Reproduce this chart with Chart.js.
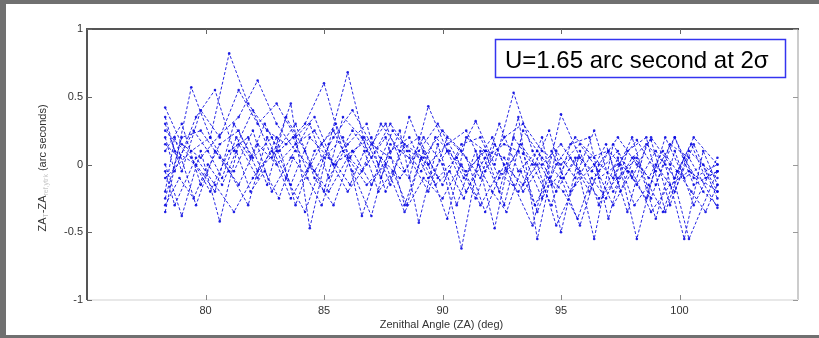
<!DOCTYPE html>
<html>
<head>
<meta charset="utf-8">
<script src="https://cdn.jsdelivr.net/npm/chart.js@4/dist/chart.umd.min.js"></script>
<style>
  html, body { margin: 0; padding: 0; background: #707070; }
  #wrap { position: absolute; left: 0; top: 0; width: 819px; height: 338px; }
</style>
</head>
<body>
<div id="wrap"><canvas id="c" width="819" height="338"></canvas></div>
<script>
// ---- data ----
const xTicks = [80, 85, 90, 95, 100];
const yTicks = [-1, -0.5, 0, 0.5, 1];

const xsA = [78.3, 79.0, 79.8, 80.6, 81.4, 82.2, 83.0, 83.8, 84.6, 85.4, 86.2, 87.0, 87.8, 88.6, 89.4, 90.2, 91.0, 91.8, 92.6, 93.4, 94.2, 95.0, 95.8, 96.6, 97.4, 98.2, 99.0, 99.8, 100.6, 101.6];
const xsB = [78.3, 79.4, 80.2, 81.0, 81.8, 82.6, 83.4, 84.2, 85.0, 85.8, 86.6, 87.4, 88.2, 89.0, 89.8, 90.6, 91.4, 92.2, 93.0, 93.8, 94.6, 95.4, 96.2, 97.0, 97.8, 98.6, 99.4, 100.2, 101.0, 101.6];
const xsC = [78.3, 78.7, 79.6, 80.4, 81.2, 82.0, 82.8, 83.6, 84.4, 85.2, 86.0, 86.8, 87.6, 88.4, 89.2, 90.0, 90.8, 91.6, 92.4, 93.2, 94.0, 94.8, 95.6, 96.4, 97.2, 98.0, 98.8, 99.6, 100.4, 101.6];
const xsD = [78.3, 78.9, 79.5, 80.1, 80.7, 81.3, 81.9, 82.5, 83.1, 83.7, 84.3, 84.9, 85.5, 86.1, 86.7, 87.3, 87.9, 88.5, 89.1, 89.7, 90.3, 90.9, 91.5, 92.1, 92.7, 93.3, 93.9, 94.5, 95.1, 95.7, 96.3, 96.9, 97.5, 98.1, 98.7, 99.3, 99.9, 100.5, 101.1, 101.6];

const run1  = [0.42, 0.15, 0.05, 0.22, 0.35, 0.62, 0.30, 0.10, -0.05, 0.20, 0.40, 0.15, 0.05, -0.10, 0.43, 0.10, -0.20, 0.05, 0.15, 0.08, -0.25, 0.37, 0.05, -0.10, 0.00, 0.18, -0.05, 0.20, -0.15, -0.05];
const run2  = [-0.35, 0.57, 0.20, 0.82, 0.45, 0.25, 0.15, 0.30, 0.60, 0.10, -0.05, 0.30, 0.10, 0.20, -0.10, 0.05, 0.32, 0.00, 0.53, 0.10, -0.15, 0.05, -0.20, 0.10, -0.05, -0.25, 0.20, -0.10, 0.00, -0.20];
const run3  = [0.20, -0.05, 0.35, 0.55, 0.10, 0.40, 0.05, 0.45, -0.47, 0.15, 0.68, 0.10, 0.30, -0.05, 0.20, 0.00, -0.62, 0.10, -0.20, 0.35, -0.55, 0.10, -0.10, 0.25, -0.20, 0.05, 0.18, -0.30, 0.10, -0.10];
const run4  = [0.00, -0.38, 0.10, -0.42, 0.15, -0.10, 0.20, -0.30, 0.10, 0.25, -0.05, -0.38, 0.15, 0.05, -0.20, 0.20, 0.05, -0.35, 0.00, -0.15, 0.20, -0.50, 0.10, -0.30, 0.05, -0.55, 0.00, -0.20, 0.15, -0.25];
const run5  = [0.25, 0.05, -0.20, 0.10, 0.20, -0.15, 0.35, 0.10, -0.20, 0.35, 0.20, -0.10, 0.25, -0.43, 0.15, -0.30, 0.10, -0.47, 0.20, 0.00, -0.30, 0.15, 0.20, -0.40, 0.10, 0.20, -0.35, 0.05, -0.20, -0.30];
const run6  = [-0.20, 0.20, -0.30, 0.10, -0.05, 0.25, -0.20, 0.05, 0.30, -0.10, 0.15, 0.30, -0.20, 0.15, 0.05, 0.25, 0.10, -0.10, 0.30, -0.05, 0.10, -0.20, 0.05, -0.55, 0.15, -0.10, 0.20, 0.00, -0.55, -0.05];
const run7  = [0.10, 0.30, -0.15, 0.15, 0.25, -0.05, 0.10, 0.30, -0.10, -0.30, 0.10, 0.20, -0.15, 0.35, 0.00, -0.40, 0.20, 0.10, -0.30, 0.25, 0.05, -0.10, -0.45, 0.00, 0.20, 0.00, -0.15, 0.20, -0.10, 0.00];
const run8  = [-0.10, 0.10, 0.20, -0.05, -0.30, 0.20, -0.10, -0.35, 0.05, 0.20, -0.38, 0.05, -0.10, 0.10, 0.30, 0.05, -0.25, 0.15, -0.15, -0.45, 0.10, -0.20, 0.05, 0.10, -0.35, 0.15, 0.00, -0.55, 0.10, -0.15];
const run9  = [0.35, 0.10, 0.00, -0.20, 0.30, 0.05, 0.20, -0.15, 0.20, 0.05, -0.20, 0.00, 0.20, -0.30, 0.10, -0.15, 0.15, 0.20, -0.10, 0.10, -0.35, 0.00, 0.20, 0.05, -0.10, 0.20, -0.25, 0.15, 0.05, -0.32];
const run10 = [-0.25, 0.20, 0.25, 0.05, -0.15, 0.15, 0.00, 0.15, 0.25, 0.00, 0.10, -0.15, 0.10, 0.20, -0.10, 0.10, -0.05, 0.10, 0.05, -0.20, 0.00, 0.15, -0.05, -0.25, -0.10, 0.05, -0.40, 0.10, -0.30, 0.05];
const run11 = [0.15, 0.05, 0.25, 0.10, -0.10, 0.20, 0.05, 0.30, 0.10, 0.20, -0.05, 0.15, 0.30, 0.05, 0.20, 0.00, 0.25, 0.10, -0.05, 0.20, 0.10, -0.10, 0.05, 0.20, -0.05, 0.15, 0.00, 0.25, -0.10, 0.05, -0.05, 0.15, -0.20, 0.05, -0.10, 0.10, -0.05, 0.15, -0.10, -0.05];
const run12 = [-0.30, -0.10, -0.25, 0.00, -0.15, 0.10, -0.20, -0.05, -0.25, 0.05, -0.10, -0.30, 0.00, -0.15, 0.10, -0.20, -0.05, -0.30, 0.05, -0.15, -0.05, -0.25, 0.00, -0.20, -0.35, -0.05, -0.30, -0.10, -0.20, -0.40, -0.10, -0.25, 0.00, -0.30, -0.15, -0.35, -0.05, -0.20, -0.35, -0.15];
const run13 = [0.30, -0.05, 0.40, 0.20, 0.55, 0.30, 0.45, 0.20, 0.35, 0.00, 0.25, 0.05, 0.30, 0.10, 0.00, 0.15, 0.25, -0.05, 0.20, 0.30, 0.10, 0.00, 0.15, -0.05, 0.10, -0.15, 0.10, -0.10, 0.20, 0.00];
const run14 = [-0.05, -0.30, 0.05, -0.15, -0.35, -0.10, 0.10, -0.25, 0.00, -0.20, 0.05, -0.15, 0.00, -0.35, -0.10, -0.25, 0.00, -0.30, -0.05, -0.20, 0.00, -0.45, -0.15, 0.00, -0.30, -0.05, -0.35, -0.15, -0.05, -0.20];

const runs = [
  [xsA, run1], [xsB, run2], [xsC, run3], [xsA, run4], [xsB, run5],
  [xsC, run6], [xsA, run7], [xsB, run8], [xsC, run9], [xsA, run10],
  [xsD, run11], [xsD, run12], [xsA, run13], [xsC, run14]
];

const noteText = 'U=1.65 arc second at 2\u03C3';
const xTitle = 'Zenithal Angle (ZA) (deg)';

// ---- chart ----
const AREA = { left: 87, top: 29, right: 798, bottom: 300 };
const BLUE = 'rgba(10,10,225,0.88)';
const FONT = '"Liberation Sans", Arial, sans-serif';

const datasets = runs.map(([xs, ys]) => ({
  data: xs.map((x, i) => ({ x: x, y: ys[i] })),
  showLine: true,
  borderColor: BLUE,
  borderWidth: 1,
  borderDash: [3, 2],
  pointRadius: 1.3,
  pointBackgroundColor: BLUE,
  pointBorderWidth: 0,
  pointHoverRadius: 1.3,
  tension: 0
}));

const decor = {
  id: 'decor',
  beforeDraw(chart) {
    const ctx = chart.ctx;
    ctx.save();
    ctx.fillStyle = '#707070';
    ctx.fillRect(0, 0, 819, 338);
    ctx.fillStyle = '#ffffff';
    ctx.fillRect(6, 4, 813, 331);
    ctx.restore();
  },
  afterDraw(chart) {
    const ctx = chart.ctx;
    const a = chart.chartArea;
    const xs = chart.scales.x, ys = chart.scales.y;
    ctx.save();
    // box
    ctx.lineWidth = 2;
    ctx.strokeStyle = '#cccccc';
    ctx.beginPath(); ctx.moveTo(a.right, a.top); ctx.lineTo(a.right, a.bottom); ctx.stroke();
    ctx.strokeStyle = '#e8e8e8';
    ctx.beginPath(); ctx.moveTo(a.left, a.bottom); ctx.lineTo(a.right, a.bottom); ctx.stroke();
    ctx.strokeStyle = '#555555';
    ctx.beginPath(); ctx.moveTo(a.left, a.bottom); ctx.lineTo(a.left, a.top); ctx.lineTo(a.right + 1, a.top); ctx.stroke();
    // ticks
    ctx.lineWidth = 1;
    xTicks.forEach(v => {
      const px = Math.round(xs.getPixelForValue(v)) + 0.5;
      ctx.strokeStyle = '#888';
      ctx.beginPath(); ctx.moveTo(px, a.bottom); ctx.lineTo(px, a.bottom - 5); ctx.stroke();
      ctx.strokeStyle = '#666';
      ctx.beginPath(); ctx.moveTo(px, a.top); ctx.lineTo(px, a.top + 5); ctx.stroke();
    });
    yTicks.forEach(v => {
      const py = Math.round(ys.getPixelForValue(v)) + 0.5;
      ctx.strokeStyle = '#666';
      ctx.beginPath(); ctx.moveTo(a.left, py); ctx.lineTo(a.left + 5, py); ctx.stroke();
      ctx.strokeStyle = '#999';
      ctx.beginPath(); ctx.moveTo(a.right, py); ctx.lineTo(a.right - 5, py); ctx.stroke();
    });
    // note box
    ctx.fillStyle = '#ffffff';
    ctx.fillRect(495, 39, 291, 39);
    ctx.lineWidth = 1.5;
    ctx.strokeStyle = '#3434f0';
    ctx.strokeRect(495.5, 39.5, 290, 38);
    ctx.fillStyle = '#000';
    ctx.font = '24px ' + FONT;
    ctx.textAlign = 'left';
    ctx.textBaseline = 'alphabetic';
    ctx.fillText(noteText, 505, 68);
    // x title
    ctx.fillStyle = '#333';
    ctx.font = '11px ' + FONT;
    ctx.textAlign = 'center';
    ctx.textBaseline = 'middle';
    ctx.fillText(xTitle, (a.left + a.right) / 2 - 1, 325);
    // y title with faint subscripts
    const parts = [
      ['ZA', 11, '#333', 0], ['T', 7, '#c0c0c0', 3], ['-ZA', 11, '#333', 0],
      ['ref,ytrk', 7, '#c8c8c8', 3], [' (arc seconds)', 11, '#333', 0]
    ];
    let total = 0;
    parts.forEach(p => { ctx.font = p[1] + 'px ' + FONT; total += ctx.measureText(p[0]).width; });
    ctx.translate(43, 168);
    ctx.rotate(-Math.PI / 2);
    ctx.textAlign = 'left';
    let cx = -total / 2;
    parts.forEach(p => {
      ctx.font = p[1] + 'px ' + FONT;
      ctx.fillStyle = p[2];
      ctx.fillText(p[0], cx, p[3]);
      cx += ctx.measureText(p[0]).width;
    });
    ctx.restore();
  }
};

new Chart(document.getElementById('c'), {
  type: 'scatter',
  data: { datasets },
  options: {
    responsive: false,
    animation: false,
    events: [],
    layout: { padding: { left: 0, top: AREA.top, right: 819 - AREA.right, bottom: 0 } },
    plugins: { legend: { display: false }, tooltip: { enabled: false } },
    scales: {
      x: {
        type: 'linear', min: 75, max: 105,
        grid: { display: false, drawTicks: false },
        border: { display: false },
        afterBuildTicks: s => { s.ticks = xTicks.map(v => ({ value: v })); },
        afterFit: s => { s.height = 338 - AREA.bottom; },
        ticks: { padding: 4, color: '#333', font: { family: FONT, size: 11 }, maxRotation: 0,
                 callback: v => String(v) }
      },
      y: {
        type: 'linear', min: -1, max: 1,
        grid: { display: false, drawTicks: false },
        border: { display: false },
        afterBuildTicks: s => { s.ticks = yTicks.map(v => ({ value: v })); },
        afterFit: s => { s.width = AREA.left; },
        ticks: { padding: 4, color: '#333', font: { family: FONT, size: 11 },
                 callback: v => String(v) }
      }
    }
  },
  plugins: [decor]
});
</script>
</body>
</html>
